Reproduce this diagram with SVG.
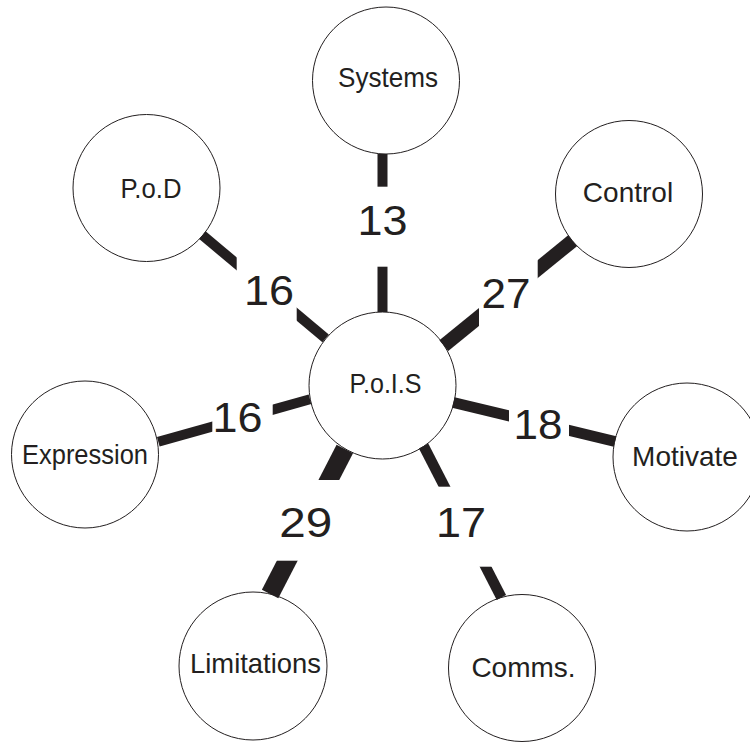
<svg xmlns="http://www.w3.org/2000/svg" width="750" height="742" viewBox="0 0 750 742">
  <style>
    .node circle { fill: #ffffff; stroke: #231f20; stroke-width: 1; }
    .node text { font-family: "Liberation Sans", Arial, sans-serif; font-size: 28px; fill: #231f20; text-anchor: middle; }
    .link line { stroke: #231f20; stroke-linecap: butt; }
    .link rect { fill: #ffffff; stroke: none; }
    .link text { font-family: "Liberation Sans", Arial, sans-serif; font-size: 42px; fill: #231f20; text-anchor: middle; }
  </style>

  <rect x="0" y="0" width="750" height="742" fill="#ffffff"/>

  <!-- nodes -->
  <g id="node-systems" class="node">
    <circle cx="386" cy="80.5" r="73.5"/>
    <text x="388" y="87" textLength="100" lengthAdjust="spacingAndGlyphs">Systems</text>
  </g>
  <g id="node-pod" class="node">
    <circle cx="146.5" cy="188" r="73.5"/>
    <text x="151" y="197.7" textLength="61" lengthAdjust="spacingAndGlyphs">P.o.D</text>
  </g>
  <g id="node-control" class="node">
    <circle cx="629" cy="194" r="73.5"/>
    <text x="628" y="201.7">Control</text>
  </g>
  <g id="node-expression" class="node">
    <circle cx="85" cy="454.5" r="73.5"/>
    <text x="85" y="464" textLength="126" lengthAdjust="spacingAndGlyphs">Expression</text>
  </g>
  <g id="node-pois" class="node">
    <circle cx="382.5" cy="385.5" r="73.5"/>
    <text x="385.5" y="393" textLength="72" lengthAdjust="spacingAndGlyphs">P.o.I.S</text>
  </g>
  <g id="node-motivate" class="node">
    <circle cx="687" cy="457" r="74"/>
    <text x="685" y="466">Motivate</text>
  </g>
  <g id="node-limitations" class="node">
    <circle cx="253" cy="666" r="74"/>
    <text x="255.5" y="673" textLength="131" lengthAdjust="spacingAndGlyphs">Limitations</text>
  </g>
  <g id="node-comms" class="node">
    <circle cx="522" cy="668" r="73.5"/>
    <text x="523.5" y="677">Comms.</text>
  </g>

  <!-- weighted connectors, each broken by its count label -->
  <g id="connectors">
    <g id="edge-systems" class="link">
      <line x1="382.5" y1="154" x2="382.5" y2="312" stroke-width="10"/>
      <rect x="352" y="186.7" width="61" height="80"/>
      <text x="382.6" y="235" textLength="50" lengthAdjust="spacingAndGlyphs">13</text>
    </g>
    <g id="edge-pod" class="link">
      <line x1="202.4" y1="235.2" x2="325.6" y2="338.3" stroke-width="10"/>
      <rect x="236.7" y="254" width="60" height="80"/>
      <text x="268.9" y="305" textLength="50" lengthAdjust="spacingAndGlyphs">16</text>
    </g>
    <g id="edge-control" class="link">
      <line x1="443.8" y1="345.6" x2="572.6" y2="240.7" stroke-width="14"/>
      <rect x="479" y="254" width="58.7" height="82"/>
      <text x="506" y="308" textLength="49" lengthAdjust="spacingAndGlyphs">27</text>
    </g>
    <g id="edge-expression" class="link">
      <line x1="158.3" y1="441.7" x2="310" y2="399.3" stroke-width="10"/>
      <rect x="212.3" y="384" width="60.4" height="80"/>
      <text x="237.6" y="431.7" textLength="50" lengthAdjust="spacingAndGlyphs">16</text>
    </g>
    <g id="edge-motivate" class="link">
      <line x1="453.3" y1="402.5" x2="615" y2="441.5" stroke-width="11"/>
      <rect x="509" y="391" width="60" height="80"/>
      <text x="538.1" y="439.3" textLength="49" lengthAdjust="spacingAndGlyphs">18</text>
    </g>
    <g id="edge-limitations" class="link">
      <line x1="344.8" y1="449" x2="270.1" y2="594" stroke-width="18.5"/>
      <rect x="268" y="480" width="79" height="80.7"/>
      <text x="305.8" y="537.3" textLength="53" lengthAdjust="spacingAndGlyphs">29</text>
    </g>
    <g id="edge-comms" class="link">
      <line x1="423.6" y1="446" x2="501.4" y2="597.5" stroke-width="10.5"/>
      <rect x="430" y="486.7" width="67" height="80"/>
      <text x="460.9" y="536.7" textLength="50" lengthAdjust="spacingAndGlyphs">17</text>
    </g>
  </g>
</svg>
